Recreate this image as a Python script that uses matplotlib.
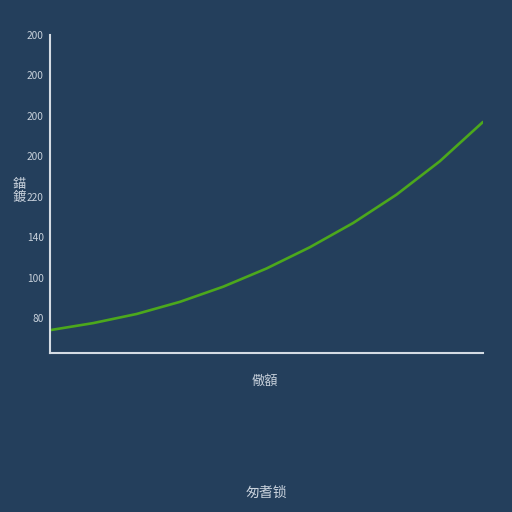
import matplotlib
matplotlib.use("Agg")
import matplotlib.pyplot as plt

# data
x_values = [0, 1, 2, 3, 4, 5, 6, 7, 8, 9, 10]
y_values = [74, 77.5, 82, 88, 95.5, 104.5, 115, 127, 141, 157.5, 177]
y_tick_positions = [80, 100, 120, 140, 160, 180, 200, 220]
y_tick_labels = ["80", "100", "140", "220", "200", "200", "200", "200"]
x_label = "儆額"
y_label = "錨\n鍍"
title = "匆耆锁"

BG = "#243f5c"
TXT = "#c9d2dc"
SPINE = "#d4dbe3"
LINE = "#4ca81c"

plt.rcParams['font.family'] = ['Noto Sans CJK SC', 'DejaVu Sans']

fig = plt.figure(figsize=(5.12, 5.12), dpi=100, facecolor=BG)
ax = fig.add_axes([50/512, 1-353/512, (483-50)/512, (353-35)/512])
ax.set_facecolor(BG)
ax.plot(x_values, y_values, color=LINE, linewidth=1.9, solid_capstyle='round', solid_joinstyle='round')
ax.set_xlim(x_values[0], x_values[-1])
ax.set_ylim(62.7, 220)
ax.set_yticks(y_tick_positions)
ax.set_yticklabels(y_tick_labels)
ax.set_xticks([])
ax.tick_params(axis='y', length=0, pad=4.5, labelsize=7.3, labelcolor=TXT)
for s in ['top', 'right']:
    ax.spines[s].set_visible(False)
for s in ['left', 'bottom']:
    ax.spines[s].set_color(SPINE)
    ax.spines[s].set_linewidth(1.5)

fig.text(19/512, 1-191/512, y_label, color=TXT, fontsize=9.5, ha='center', va='center', linespacing=1.0)
fig.text(265/512, 1-381/512, x_label, color=TXT, fontsize=9.5, ha='center', va='center')
fig.text(266/512, 1-493/512, title, color=TXT, fontsize=10, ha='center', va='center')

fig.savefig("out.png", dpi=100, facecolor=BG)
